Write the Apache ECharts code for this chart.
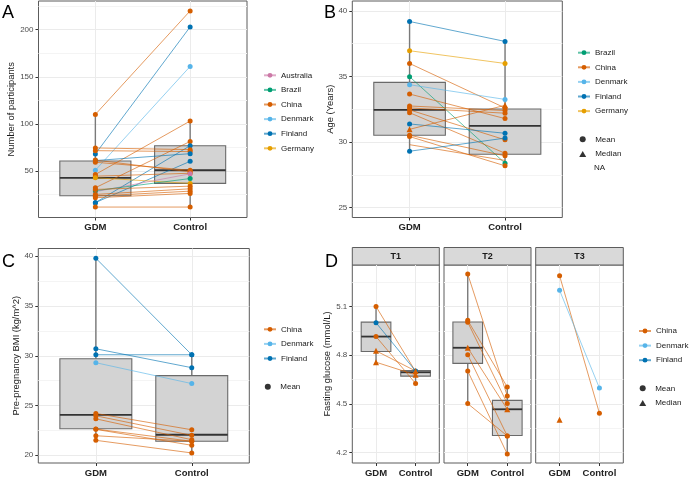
<!DOCTYPE html>
<html><head><meta charset="utf-8">
<script src="https://cdn.jsdelivr.net/npm/echarts@6/dist/echarts.min.js"></script>
<style>html,body{margin:0;padding:0;background:#fff}#c{width:689px;height:478px}</style>
</head><body><div id="c"></div>
<script>
const FONT = '"Liberation Sans", Arial, Helvetica, sans-serif';
const COLORS = {Australia:'#CC79A7', Brazil:'#009E73', China:'#D55E00', Denmark:'#56B4E9', Finland:'#0072B2', Germany:'#E69F00'};
const groups = ['GDM', 'Control'];

// ---- Panel A: Number of participants ----
const A_country = ['China','Finland','Denmark','China','China','Finland','Finland','China','China','Finland','China','China','China','Germany','Australia','Brazil','China','China','China','China','China'];
const A_gdm  = [110, 68, 50.7, 46.2, 32.1, 16.3, 16.3, 74.4, 71.5, 61, 59.2, 61.5, 44.4, 42.7, 27.9, 29, 30.3, 25, 23.2, 21.5, 11.6];
const A_ctrl = [220, 203, 161, 103, 81.3, 76.8, 60.2, 72.6, 70.5, 68.3, 50.7, 49, 47.5, 36.7, 46.9, 41.9, 33.8, 31, 28.5, 26.1, 11.6];
const A_stat = A_country.map(() => 'mean');
const A_boxGDM  = [11.6, 23.6, 42.7, 60.6, 110];
const A_boxCtrl = [11.6, 36.7, 50.7, 76.8, 103];
const A_ticks = [50, 100, 150, 200];
const A_minor = [25, 75, 125, 175, 225];

// ---- Panel B: Age ----
const B_country = ['Finland','Germany','China','Brazil','Denmark','China','China','China','China','China','Finland','China','China','China','China','Finland'];
const B_gdm  = [39.19, 36.96, 35.99, 34.98, 34.37, 33.66, 32.75, 32.6, 32.45, 32.24, 31.38, 30.97, 30.52, 30.42, 29.8, 29.3];
const B_ctrl = [37.67, 35.99, 32.6, 28.39, 33.25, 31.79, 32.4, 32.2, 30.17, 29.15, 30.67, 32.8, 28.95, 28.19, 28.6, 30.3];
const B_stat = ['mean','mean','mean','mean','mean','mean','mean','mean','mean','mean','mean','median','mean','mean','na','mean'];
const B_boxGDM  = [29.3, 30.52, 32.45, 34.55, 39.19];
const B_boxCtrl = [28.19, 29.07, 31.23, 32.52, 37.67];
const B_ticks = [25, 30, 35, 40];
const B_minor = [27.5, 32.5, 37.5];

// ---- Panel C: Pre-pregnancy BMI ----
const C_country = ['Finland','Finland','Finland','Denmark','China','China','China','China','China','China','China'];
const C_gdm  = [39.8, 30.7, 30.1, 29.3, 24.2, 23.96, 23.66, 22.63, 22.6, 21.96, 21.5];
const C_ctrl = [30.1, 28.8, 30.1, 27.2, 22.56, 22.0, 21.56, 21.4, 21.0, 21.4, 20.23];
const C_stat = C_country.map(() => 'mean');
const C_boxGDM  = [21.5, 22.66, 24.06, 29.7, 39.8];
const C_boxCtrl = [20.23, 21.4, 22.06, 28.0, 30.1];
const C_ticks = [20, 25, 30, 35, 40];
const C_minor = [22.5, 27.5, 32.5, 37.5];

// ---- Panel D: Fasting glucose, facets T1/T2/T3 ----
const D1_country = ['China','Finland','China','China','China'];
const D1_gdm  = [5.10, 5.00, 4.915, 4.827, 4.757];
const D1_ctrl = [4.70, 4.703, 4.626, 4.703, 4.679];
const D1_stat = ['mean','mean','mean','median','median'];
const D1_boxGDM  = [4.757, 4.823, 4.915, 5.004, 5.10];
const D1_boxCtrl = [4.626, 4.671, 4.695, 4.705, 4.705];

const D2_country = ['China','China','China','China','China','China','China'];
const D2_gdm  = [5.30, 5.015, 5.004, 4.846, 4.803, 4.703, 4.502];
const D2_ctrl = [4.549, 4.604, 4.502, 4.467, 4.303, 4.191, 4.303];
const D2_stat = ['mean','mean','mean','median','mean','mean','mean'];
const D2_boxGDM  = [4.502, 4.75, 4.846, 5.005, 5.30];
const D2_boxCtrl = [4.191, 4.305, 4.467, 4.522, 4.604];

const D3_country = ['China','Denmark','China'];
const D3_gdm  = [5.29, 5.20, 4.402];
const D3_ctrl = [4.443, 4.598, null];
const D3_stat = ['mean','mean','median'];

const D_ticks = [4.2, 4.5, 4.8, 5.1];
const D_minor = [4.35, 4.65, 4.95, 5.25];
const facetLabels = ['T1', 'T2', 'T3'];

// ---- layout (positions only) ----
const panels = [
  {grid:{left:38.5, top:1, width:208.5, height:216.5}, yMin:0.5, yMax:230.5, ticks:A_ticks, minor:A_minor, title:'Number of participants', gap:20, labels:true,
   countries:A_country, gdm:A_gdm, ctrl:A_ctrl, stat:A_stat, box:[A_boxGDM, A_boxCtrl]},
  {grid:{left:352.3, top:1, width:210, height:216.5}, yMin:24.25, yMax:40.75, ticks:B_ticks, minor:B_minor, title:'Age (Years)', gap:15, labels:true,
   countries:B_country, gdm:B_gdm, ctrl:B_ctrl, stat:B_stat, box:[B_boxGDM, B_boxCtrl]},
  {grid:{left:38.3, top:248.5, width:211, height:216.5}, yMin:19.22, yMax:40.78, ticks:C_ticks, minor:C_minor, title:'Pre-pregnancy BMI (kg/m^2)', gap:16, labels:true,
   countries:C_country, gdm:C_gdm, ctrl:C_ctrl, stat:C_stat, box:[C_boxGDM, C_boxCtrl]},
  {grid:{left:352.3, top:265, width:87, height:200}, yMin:4.136, yMax:5.356, ticks:D_ticks, minor:D_minor, title:'Fasting glucose (mmol/L)', gap:18, labels:true,
   countries:D1_country, gdm:D1_gdm, ctrl:D1_ctrl, stat:D1_stat, box:[D1_boxGDM, D1_boxCtrl]},
  {grid:{left:444, top:265, width:87, height:200}, yMin:4.136, yMax:5.356, ticks:D_ticks, minor:D_minor, title:'', gap:0, labels:false,
   countries:D2_country, gdm:D2_gdm, ctrl:D2_ctrl, stat:D2_stat, box:[D2_boxGDM, D2_boxCtrl]},
  {grid:{left:535.7, top:265, width:87.6, height:200}, yMin:4.136, yMax:5.356, ticks:D_ticks, minor:D_minor, title:'', gap:0, labels:false,
   countries:D3_country, gdm:D3_gdm, ctrl:D3_ctrl, stat:D3_stat, box:null}
];

const BORDER = '#5c5c5c';
const grids = [], xAxes = [], yAxes = [], series = [];

function boxRender(params, api) {
  const x = api.value(0);
  const p = i => api.coord([x, api.value(i)]);
  const lo = p(1), q1 = p(2), md = p(3), q3 = p(4), hi = p(5);
  const hw = api.size([0.75, 0])[0] / 2;
  const cx = lo[0];
  const ws = {stroke:'#7a7a7a', lineWidth:1.4};
  return {type:'group', children:[
    {type:'line', shape:{x1:cx, y1:lo[1], x2:cx, y2:q1[1]}, style:ws},
    {type:'line', shape:{x1:cx, y1:q3[1], x2:cx, y2:hi[1]}, style:ws},
    {type:'rect', shape:{x:cx - hw, y:q3[1], width:2 * hw, height:q1[1] - q3[1]}, style:{fill:'#D3D3D3', stroke:'#6a6a6a', lineWidth:1.1}},
    {type:'line', shape:{x1:cx - hw, y1:md[1], x2:cx + hw, y2:md[1]}, style:{stroke:'#333333', lineWidth:1.8}}
  ]};
}

panels.forEach((P, gi) => {
  grids.push(Object.assign({show:true, borderColor:BORDER, borderWidth:1, backgroundColor:'transparent', containLabel:false}, P.grid));
  xAxes.push({
    gridIndex:gi, type:'value', min:0.4, max:2.6,
    axisLine:{show:false},
    axisTick:{show:true, customValues:[1, 2], length:3, lineStyle:{color:'#333'}},
    axisLabel:{show:true, customValues:[1, 2], formatter:v => groups[Math.round(v) - 1], fontFamily:FONT, fontWeight:'bold', fontSize:9.5, color:'#222', margin:5},
    splitLine:{show:true, lineStyle:{color:'#EBEBEB', width:1}}
  });
  yAxes.push({
    gridIndex:gi, type:'value', min:P.yMin, max:P.yMax, position:'left',
    name:P.title, nameLocation:'middle', nameGap:P.gap, nameRotate:90,
    nameTextStyle:{fontFamily:FONT, fontSize:9.4, color:'#1a1a1a'},
    axisLine:{show:false},
    axisTick:{show:P.labels, customValues:P.ticks, length:3, lineStyle:{color:'#333'}},
    axisLabel:{show:P.labels, customValues:P.ticks, fontFamily:FONT, fontSize:8, color:'#4D4D4D', margin:5},
    splitLine:{show:true, lineStyle:{color:'#EBEBEB', width:1}}
  });
  yAxes.push({
    gridIndex:gi, type:'value', min:P.yMin, max:P.yMax, position:'right',
    axisLine:{show:false},
    axisTick:{show:false, customValues:P.minor},
    axisLabel:{show:false, customValues:P.minor},
    splitLine:{show:true, lineStyle:{color:'#F4F4F4', width:1}}
  });
  if (P.box) {
    series.push({type:'custom', xAxisIndex:gi, yAxisIndex:2 * gi, renderItem:boxRender, silent:true, z:1,
      encode:{x:0, y:[1, 2, 3, 4, 5]},
      data:[[1].concat(P.box[0]), [2].concat(P.box[1])]});
  }
  P.countries.forEach((c, k) => {
    const st = P.stat[k];
    const data = [[1, P.gdm[k]]];
    if (P.ctrl[k] != null) data.push([2, P.ctrl[k]]);
    series.push({
      type:'line', name:c, xAxisIndex:gi, yAxisIndex:2 * gi, data:data,
      symbol: st === 'median' ? 'triangle' : (st === 'na' ? 'none' : 'circle'),
      symbolSize: st === 'median' ? 6 : 5, showSymbol:true, showAllSymbol:true,
      itemStyle:{color:COLORS[c]}, lineStyle:{width:1, color:COLORS[c], opacity:0.62},
      emphasis:{disabled:true}, silent:true, z:3, clip:false
    });
  });
});

// legend-only shape series
series.push({type:'scatter', name:'Mean', xAxisIndex:0, yAxisIndex:0, symbol:'circle', itemStyle:{color:'#000'}, data:[]});
series.push({type:'scatter', name:'Median', xAxisIndex:0, yAxisIndex:0, symbol:'triangle', itemStyle:{color:'#000'}, data:[]});

const legendBase = {orient:'vertical', itemWidth:12, itemHeight:6, itemGap:4.6, padding:0, selectedMode:false,
  textStyle:{fontFamily:FONT, fontSize:8, lineHeight:10, color:'#1a1a1a'}};
const shapeBase = Object.assign({}, legendBase, {itemWidth:7, itemHeight:6,
  textStyle:{fontFamily:FONT, fontSize:8, lineHeight:10, color:'#1a1a1a', padding:[0, 0, 0, 4]}});
const legends = [
  Object.assign({}, legendBase, {left:263, top:70.3, data:['Australia','Brazil','China','Denmark','Finland','Germany']}),
  Object.assign({}, legendBase, {left:577, top:47.7, data:['Brazil','China','Denmark','Finland','Germany']}),
  Object.assign({}, shapeBase, {left:579.2, top:134.3, data:['Mean','Median']}),
  Object.assign({}, legendBase, {left:263, top:324.3, data:['China','Denmark','Finland']}),
  Object.assign({}, shapeBase, {left:264.8, top:381.7, data:['Mean']}),
  Object.assign({}, legendBase, {left:638, top:326, data:['China','Denmark','Finland']}),
  Object.assign({}, shapeBase, {left:639.2, top:383.3, data:['Mean','Median']})
];

const graphics = [
  {type:'text', left:2, top:4, style:{text:'A', fontFamily:FONT, fontSize:18, fill:'#000'}},
  {type:'text', left:324, top:4, style:{text:'B', fontFamily:FONT, fontSize:18, fill:'#000'}},
  {type:'text', left:2, top:253.5, style:{text:'C', fontFamily:FONT, fontSize:18, fill:'#000'}},
  {type:'text', left:325, top:253.5, style:{text:'D', fontFamily:FONT, fontSize:18, fill:'#000'}},
  {type:'text', left:594, top:164, style:{text:'NA', fontFamily:FONT, fontSize:8, fill:'#1a1a1a'}}
];
[3, 4, 5].forEach((gi, j) => {
  const g = panels[gi].grid;
  graphics.push({type:'rect', shape:{x:g.left, y:247.5, width:g.width, height:17.5}, style:{fill:'#D9D9D9', stroke:BORDER, lineWidth:1}});
  graphics.push({type:'text', x:g.left + g.width / 2, y:256.5, style:{text:facetLabels[j], fontFamily:FONT, fontSize:9, fontWeight:'bold', fill:'#1a1a1a', align:'center', verticalAlign:'middle'}});
});

const chart = echarts.init(document.getElementById('c'), null, {renderer:'canvas', width:689, height:478});
chart.setOption({
  animation:false,
  backgroundColor:'#ffffff',
  grid:grids, xAxis:xAxes, yAxis:yAxes, series:series, legend:legends, graphic:graphics
});
</script>
</body></html>
